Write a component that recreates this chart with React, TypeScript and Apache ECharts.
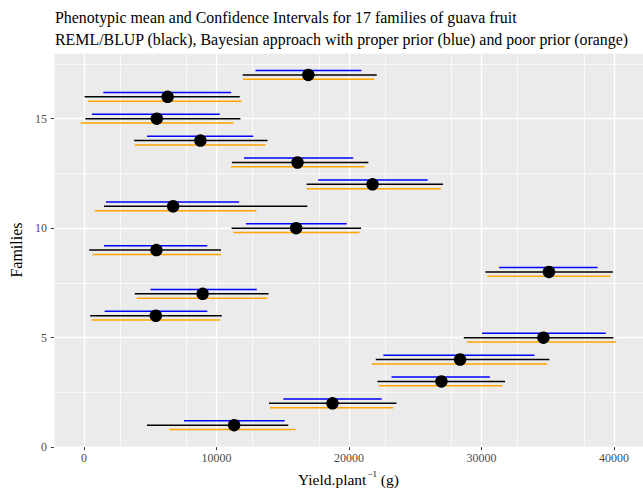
import React, { useEffect, useRef } from "react";
import * as echarts from "echarts";

const families = [1, 2, 3, 4, 5, 6, 7, 8, 9, 10, 11, 12, 13, 14, 15, 16, 17];
const means = [11329, 18753, 26971, 28382, 34669, 5419, 8953, 35085, 5464, 16006, 6726, 21774, 16110, 8782, 5494, 6310, 16927];
const remlLow = [4751, 13957, 22145, 22019, 28656, 468, 3831, 30290, 393, 11136, 1507, 16800, 11158, 3786, 97, 45, 11975];
const remlHigh = [15412, 23578, 31774, 35115, 39941, 10393, 13928, 39911, 10341, 20906, 16852, 27097, 21455, 13853, 11804, 11752, 22094];
const properLow = [7543, 15041, 23207, 22591, 30037, 1559, 5019, 31329, 1507, 12220, 1656, 17669, 12071, 4751, 594, 1455, 12940];
const properHigh = [15145, 22465, 30631, 33998, 39369, 9302, 13037, 38753, 9302, 19822, 11700, 25932, 20312, 12769, 10245, 11106, 20935];
const poorLow = [6429, 14031, 22242, 21700, 28901, 564, 3979, 30438, 638, 11284, 817, 16800, 11084, 3831, -252, 319, 11997];
const poorHigh = [15961, 23333, 31551, 34940, 40163, 10245, 13829, 39718, 10341, 20787, 13014, 26949, 21181, 13705, 11284, 11900, 21900];
const xTicks = [0, 10000, 20000, 30000, 40000];
const yTicks = [0, 5, 10, 15];

const FONT = "Liberation Serif";
const XMIN = -2273;
const XMAX = 42184;
const YMIN = 0;
const YMAX = 18;

function ciSeries(name: string, low: number[], high: number[], color: string, off: number) {
  return {
    name,
    type: "custom",
    xAxisIndex: 0,
    yAxisIndex: 0,
    z: 3,
    data: families.map((f, i) => [low[i], high[i], f]),
    encode: { x: [0, 1], y: 2 },
    renderItem: (params: any, api: any) => {
      const y = api.value(2) + off;
      const p1 = api.coord([api.value(0), y]);
      const p2 = api.coord([api.value(1), y]);
      return {
        type: "line",
        shape: { x1: p1[0], y1: p1[1], x2: p2[0], y2: p2[1] },
        style: { stroke: color, lineWidth: 1.5 },
      };
    },
  };
}

export default function App() {
  const ref = useRef<HTMLDivElement>(null);
  useEffect(() => {
    if (!ref.current) return;
    const chart = echarts.init(ref.current, undefined, { renderer: "svg" });
    const tickLabel = { color: "#4D4D4D", fontFamily: FONT, fontSize: 12 };
    const hiddenLine = { show: true, lineStyle: { color: "rgba(0,0,0,0)", width: 0 } };
    chart.setOption({
      animation: false,
      backgroundColor: "#FFFFFF",
      title: {
        text: "Phenotypic mean and Confidence Intervals for 17 families of guava fruit\nREML/BLUP (black), Bayesian approach with proper prior (blue) and poor prior (orange)",
        left: 50,
        top: 1,
        textStyle: { fontFamily: FONT, fontSize: 15.9, fontWeight: "normal", color: "#000", lineHeight: 22 },
      },
      grid: { left: 50, right: -6, top: 53, bottom: 41, show: true, backgroundColor: "#EBEBEB", borderWidth: 0 },
      xAxis: [
        {
          type: "value",
          min: XMIN,
          max: XMAX,
          interval: 10000,
          axisLine: { ...hiddenLine, onZero: false },
          axisTick: { show: true, length: 3, lineStyle: { color: "#333333", width: 1 }, customValues: xTicks },
          axisLabel: { ...tickLabel, margin: 5, customValues: xTicks, formatter: (v: number) => String(v) },
          splitLine: { show: true, lineStyle: { color: "#FFFFFF", width: 1.4 } },
          name: "{a|Yield.plant}{s|−1}{a| (g)}",
          nameLocation: "middle",
          nameGap: 11,
          nameTextStyle: {
            rich: {
              a: { fontFamily: FONT, fontSize: 15.5, color: "#000", lineHeight: 18, verticalAlign: "bottom" },
              s: { fontFamily: FONT, fontSize: 9, color: "#000", lineHeight: 18, verticalAlign: "top", padding: [0, 0, 0, 1] },
            },
          },
        },
        {
          type: "value",
          min: XMIN,
          max: XMAX,
          interval: 5000,
          position: "bottom",
          axisLine: { show: false, onZero: false },
          axisTick: { show: false },
          axisLabel: { show: false },
          splitLine: { show: true, lineStyle: { color: "#FFFFFF", width: 0.7 } },
        },
      ],
      yAxis: [
        {
          type: "value",
          min: YMIN,
          max: YMAX,
          interval: 5,
          axisLine: { ...hiddenLine, onZero: false },
          axisTick: { show: true, length: 3, lineStyle: { color: "#333333", width: 1 }, customValues: yTicks },
          axisLabel: { ...tickLabel, margin: 7, customValues: yTicks, formatter: (v: number) => String(v) },
          splitLine: { show: true, lineStyle: { color: "#FFFFFF", width: 1.4 } },
          name: "Families",
          nameLocation: "middle",
          nameGap: 26,
          nameRotate: 90,
          nameTextStyle: { fontFamily: FONT, fontSize: 16, color: "#000" },
        },
        {
          type: "value",
          min: YMIN,
          max: YMAX,
          interval: 2.5,
          position: "left",
          axisLine: { show: false, onZero: false },
          axisTick: { show: false },
          axisLabel: { show: false },
          splitLine: { show: true, lineStyle: { color: "#FFFFFF", width: 0.7 } },
        },
      ],
      series: [
        ciSeries("REML/BLUP", remlLow, remlHigh, "#000000", 0),
        ciSeries("Proper prior", properLow, properHigh, "#0000FF", 0.2),
        ciSeries("Poor prior", poorLow, poorHigh, "#FFA500", -0.2),
        {
          name: "Mean",
          type: "scatter",
          xAxisIndex: 0,
          yAxisIndex: 0,
          z: 4,
          symbolSize: 12.5,
          itemStyle: { color: "#000000", opacity: 1 },
          data: families.map((f, i) => [means[i], f]),
        },
      ],
    });
    return () => chart.dispose();
  }, []);
  return <div ref={ref} style={{ position: "absolute", left: 0, top: 0, width: 643, height: 492 }} />;
}
